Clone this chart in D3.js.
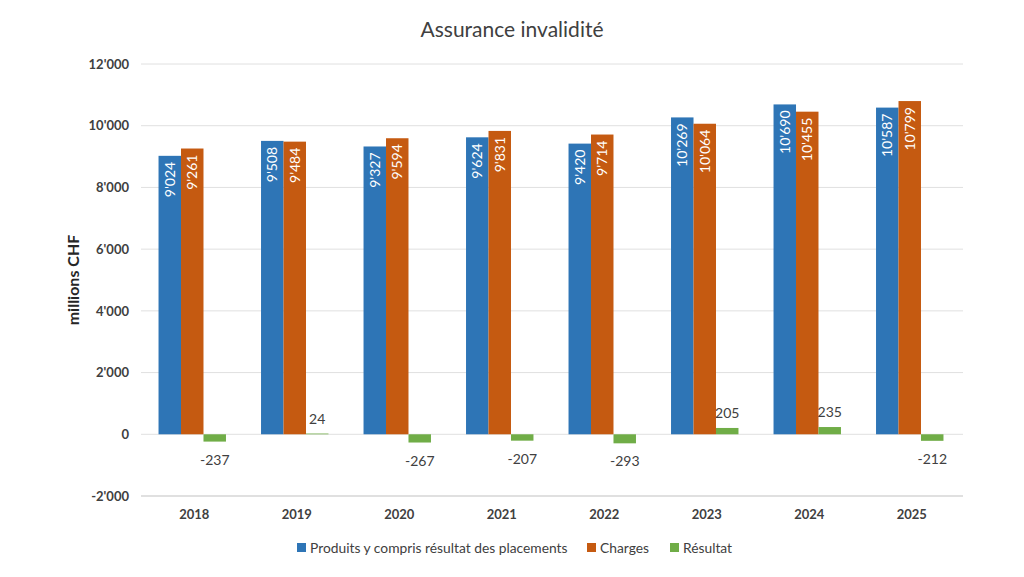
<!DOCTYPE html>
<html>
<head>
<meta charset="utf-8">
<script src="https://cdn.jsdelivr.net/npm/d3@7"></script>
<style>
  body { margin: 0; background: #fff; }
  text { font-family: Lato, "Noto Sans", sans-serif; }
</style>
</head>
<body>
<div class="chart"></div>
<script>
// data
var years = ["2018", "2019", "2020", "2021", "2022", "2023", "2024", "2025"];
var produits = [9024, 9508, 9327, 9624, 9420, 10269, 10690, 10587];
var charges = [9261, 9484, 9594, 9831, 9714, 10064, 10455, 10799];
var resultat = [-237, 24, -267, -207, -293, 205, 235, -212];
var seriesNames = ["Produits y compris résultat des placements", "Charges", "Résultat"];
var yTicks = [-2000, 0, 2000, 4000, 6000, 8000, 10000, 12000];

var colors = ["#2E75B6", "#C55A11", "#70AD47"];

var svgWidth = 1024;
var svgHeight = 577;
var margin = { top: 64, right: 61, bottom: 81, left: 143 };
var width = svgWidth - margin.left - margin.right;
var height = svgHeight - margin.top - margin.bottom;

var svg = d3.select(".chart")
    .append("svg")
    .attr("width", svgWidth)
    .attr("height", svgHeight);

var chartGroup = svg.append("g")
    .attr("transform", `translate(${margin.left}, ${margin.top})`);

// apostrophe thousands separator, plain hyphen minus
var fmt = d3.formatLocale({ decimal: ".", thousands: "'", grouping: [3], currency: ["", ""], minus: "-" }).format(",d");

var xScale = d3.scaleBand().domain(years).range([0, width]).paddingInner(0).paddingOuter(0);
var x1 = d3.scaleBand().domain([0, 1, 2]).range([0, xScale.bandwidth()]).paddingOuter(0.78).paddingInner(0);
var yScale = d3.scaleLinear().domain([-2000, 12000]).range([height, 0]);

// gridlines
chartGroup.append("g")
    .selectAll("line")
    .data(yTicks)
    .enter()
    .append("line")
    .attr("x1", -2)
    .attr("x2", width)
    .attr("y1", d => yScale(d))
    .attr("y2", d => yScale(d))
    .attr("stroke", d => d === -2000 ? "#d6d6d6" : "#e0e0e0")
    .attr("stroke-width", d => d === -2000 ? 1.5 : 1);

// y axis labels
var leftAxis = d3.axisLeft(yScale).tickValues(yTicks).tickFormat(fmt).tickSize(0).tickPadding(14);
var yAxisG = chartGroup.append("g").call(leftAxis);
yAxisG.select(".domain").remove();
yAxisG.selectAll("text")
    .attr("fill", "#404040")
    .attr("font-size", "13px")
    .attr("font-weight", "bold");

// x axis labels
var bottomAxis = d3.axisBottom(xScale).tickSize(0).tickPadding(14);
var xAxisG = chartGroup.append("g")
    .attr("transform", `translate(0, ${height})`)
    .call(bottomAxis);
xAxisG.select(".domain").remove();
xAxisG.selectAll("text")
    .attr("fill", "#404040")
    .attr("font-size", "13px")
    .attr("font-weight", "bold");

var allSeries = [produits, charges, resultat];
var rows = [];
allSeries.forEach(function(vals, s) {
    vals.forEach(function(v, i) {
        rows.push({ s: s, year: years[i], value: v });
    });
});

var bx = d => xScale(d.year) + x1(d.s) - 2;

// bars
chartGroup.selectAll("rect.bar")
    .data(rows)
    .enter()
    .append("rect")
    .attr("class", "bar")
    .attr("x", bx)
    .attr("width", x1.bandwidth())
    .attr("y", d => yScale(Math.max(0, d.value)))
    .attr("height", d => Math.abs(yScale(d.value) - yScale(0)))
    .attr("fill", d => colors[d.s]);

// rotated labels inside blue and orange bars
chartGroup.selectAll("text.inlabel")
    .data(rows.filter(d => d.s < 2))
    .enter()
    .append("text")
    .attr("class", "inlabel")
    .attr("transform", d => `translate(${bx(d) + x1.bandwidth() / 2 + 5}, ${yScale(d.value) + 6}) rotate(-90)`)
    .attr("text-anchor", "end")
    .attr("fill", "white")
    .attr("font-size", "14px")
    .text(d => fmt(d.value));

// labels for result bars
chartGroup.selectAll("text.reslabel")
    .data(rows.filter(d => d.s === 2))
    .enter()
    .append("text")
    .attr("class", "reslabel")
    .attr("x", d => bx(d) + x1.bandwidth() / 2)
    .attr("y", d => d.value >= 0 ? yScale(d.value) - 10 : yScale(d.value) + 23)
    .attr("text-anchor", "middle")
    .attr("fill", "#404040")
    .attr("font-size", "14px")
    .text(d => fmt(d.value));

// title
svg.append("text")
    .attr("x", 512)
    .attr("y", 37)
    .attr("text-anchor", "middle")
    .attr("fill", "#404040")
    .attr("font-size", "21px")
    .text("Assurance invalidité");

// y axis title
svg.append("text")
    .attr("transform", `translate(79, ${margin.top + yScale(5000)}) rotate(-90)`)
    .attr("text-anchor", "middle")
    .attr("fill", "#262626")
    .attr("font-size", "16px")
    .attr("font-weight", "bold")
    .text("millions CHF");

// legend
var legendX = [297, 587, 670];
var legend = svg.append("g").selectAll("g")
    .data(seriesNames)
    .enter()
    .append("g")
    .attr("transform", (d, i) => `translate(${legendX[i]}, 548)`);
legend.append("rect")
    .attr("x", 0)
    .attr("y", -5)
    .attr("width", 9)
    .attr("height", 9)
    .attr("fill", (d, i) => colors[i]);
legend.append("text")
    .attr("x", 13)
    .attr("y", 4.5)
    .attr("fill", "#404040")
    .attr("font-size", "13.8px")
    .text(d => d);
</script>
</body>
</html>
